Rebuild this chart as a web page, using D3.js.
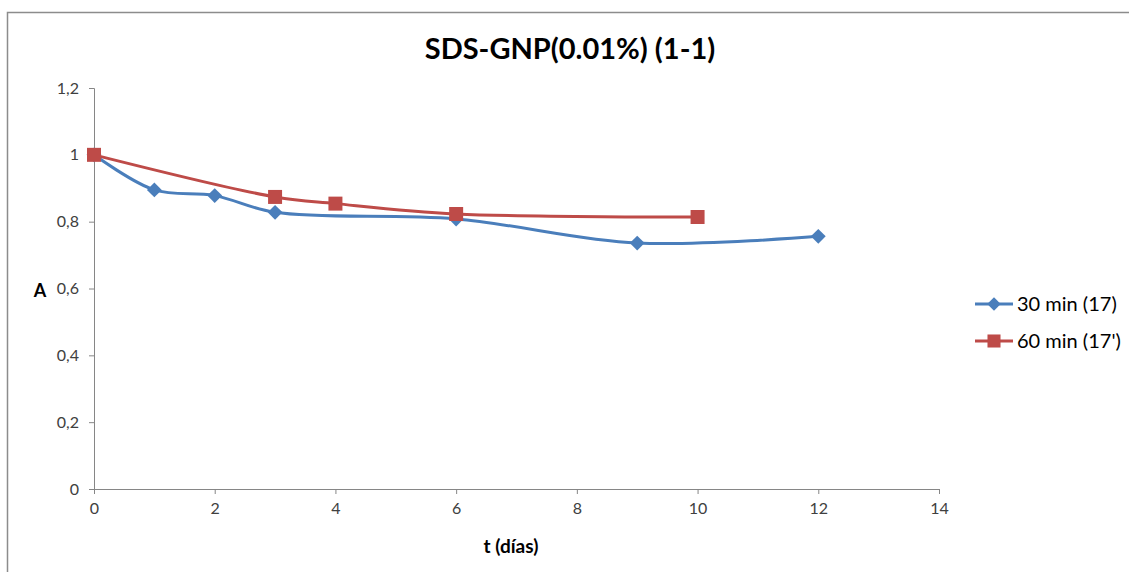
<!DOCTYPE html>
<html>
<head>
<meta charset="utf-8">
<script src="https://cdn.jsdelivr.net/npm/d3@7"></script>
<style>
  body { margin: 0; background: #fff; }
  text { font-family: Lato, "Open Sans", sans-serif; fill: #404040; }
</style>
</head>
<body>
<svg id="chart" width="1129" height="572"></svg>
<script>
// data
const xTicks = [0, 2, 4, 6, 8, 10, 12, 14];
const yTicks = [0, 0.2, 0.4, 0.6, 0.8, 1, 1.2];

const days30 = [0, 1, 2, 3, 6, 9, 12];
const abs30 = [1.0, 0.895, 0.878, 0.828, 0.808, 0.736, 0.756];

const days60 = [0, 3, 4, 6, 10];
const abs60 = [1.0, 0.874, 0.854, 0.823, 0.814];

const seriesNames = ["30 min (17)", "60 min (17')"];
const seriesColors = ["#4A7EBB", "#BE4B48"];

const svg = d3.select("#chart"),
  margin = { top: 88, right: 190, bottom: 83, left: 94 },
  width = 939 - margin.left,
  height = 489 - margin.top;

// outer chart frame (only top & left visible in the crop)
svg.append("path")
  .attr("d", "M7.5,572 V12.5 H1129")
  .style("fill", "none")
  .style("stroke", "#8c8c8c")
  .style("stroke-width", 1.5);

const g = svg.append("g")
  .attr("transform", `translate(${margin.left},${margin.top})`);

const x = d3.scaleLinear().domain([0, 14]).range([0, width]);
const y = d3.scaleLinear().domain([0, 1.2]).range([height, 0]);

const fmt = (d) => String(+d.toFixed(1)).replace(".", ",");

const xAxis = g.append("g")
  .attr("transform", `translate(0,${height})`)
  .call(d3.axisBottom(x).tickValues(xTicks).tickSize(5).tickPadding(9).tickFormat(fmt));

const yAxis = g.append("g")
  .call(d3.axisLeft(y).tickValues(yTicks).tickSize(5).tickPadding(10).tickFormat(fmt));

[xAxis, yAxis].forEach((ax) => {
  ax.select(".domain").style("stroke", "#868686");
  ax.selectAll(".tick line").style("stroke", "#868686");
  ax.selectAll(".tick text")
    .style("font-size", "16px")
    .style("font-family", "Lato, sans-serif")
    .style("fill", "#404040");
});

const lineGen = d3.line()
  .curve(d3.curveCatmullRom.alpha(0.5))
  .x((d) => x(d[0]))
  .y((d) => y(d[1]));

const data30 = d3.zip(days30, abs30);
const data60 = d3.zip(days60, abs60);

function drawSeries(pts, color, diamond) {
  g.append("path")
    .datum(pts)
    .attr("d", lineGen)
    .style("fill", "none")
    .style("stroke", color)
    .style("stroke-width", 3);
  g.selectAll(null)
    .data(pts)
    .enter()
    .append("path")
    .attr("d", d3.symbol().type(d3.symbolSquare).size(diamond ? 110 : 196))
    .attr("transform", (d) =>
      `translate(${x(d[0])},${y(d[1])})` + (diamond ? " rotate(45)" : ""))
    .style("fill", color);
}

drawSeries(data30, seriesColors[0], true);
drawSeries(data60, seriesColors[1], false);

// title
svg.append("text")
  .attr("x", 570)
  .attr("y", 59)
  .attr("text-anchor", "middle")
  .style("font-size", "29px")
  .style("font-weight", "bold")
  .style("fill", "#000")
  .text("SDS-GNP(0.01%) (1-1)");

// axis titles
svg.append("text")
  .attr("x", 40)
  .attr("y", 297)
  .attr("text-anchor", "middle")
  .style("font-size", "18px")
  .style("font-weight", "bold")
  .style("fill", "#000")
  .text("A");

svg.append("text")
  .attr("x", 511)
  .attr("y", 553)
  .attr("text-anchor", "middle")
  .style("font-size", "19px")
  .style("font-weight", "bold")
  .style("fill", "#000")
  .text("t (días)");

// legend
const legend = svg.append("g").attr("transform", "translate(975,304)");
seriesNames.forEach((name, i) => {
  const row = legend.append("g").attr("transform", `translate(0,${i * 37})`);
  row.append("line")
    .attr("x1", 0).attr("x2", 38)
    .style("stroke", seriesColors[i])
    .style("stroke-width", 3);
  row.append("path")
    .attr("transform", `translate(19,0)` + (i === 0 ? " rotate(45)" : ""))
    .attr("d", d3.symbol().type(d3.symbolSquare).size(i === 0 ? 90 : 170))
    .style("fill", seriesColors[i]);
  row.append("text")
    .attr("x", 42)
    .attr("y", 7)
    .style("font-size", "20px")
    .style("fill", "#000")
    .text(name);
});
</script>
</body>
</html>
